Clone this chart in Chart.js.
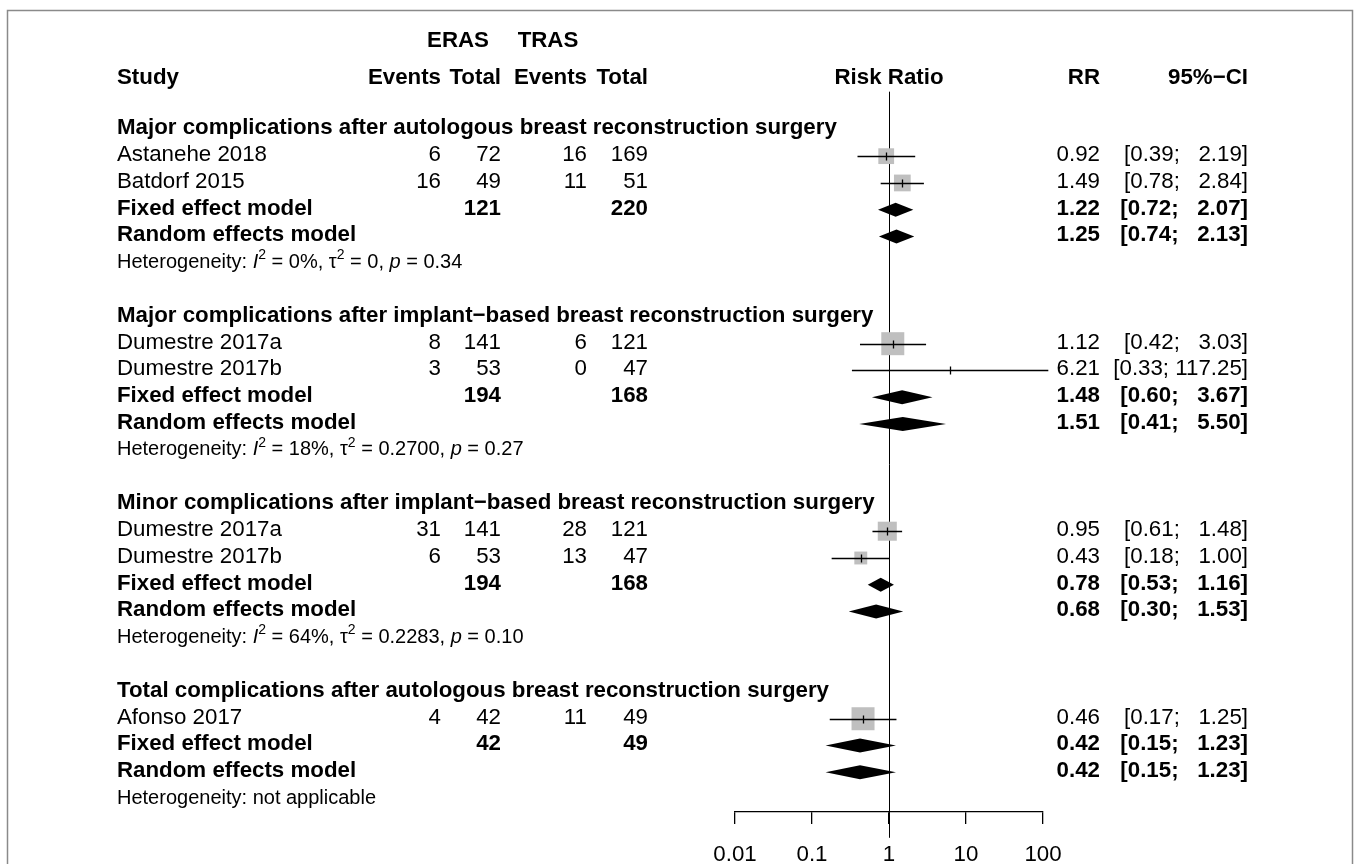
<!DOCTYPE html>
<html>
<head>
<meta charset="utf-8">
<title>Forest plot: ERAS vs TRAS</title>
<script src="https://cdn.jsdelivr.net/npm/chart.js@4.4.1/dist/chart.umd.min.js"></script>
<style>
  html, body { margin: 0; padding: 0; background: #ffffff; }
  canvas { display: block; }
</style>
</head>
<body>
<canvas id="forest" width="1357" height="864"></canvas>
<script>
// ---- Data -------------------------------------------------------------
const subgroupTitles = [
  'Major complications after autologous breast reconstruction surgery',
  'Major complications after implant\u2212based breast reconstruction surgery',
  'Minor complications after implant\u2212based breast reconstruction surgery',
  'Total complications after autologous breast reconstruction surgery'
];
const studyNames = [
  ['Astanehe 2018', 'Batdorf 2015'],
  ['Dumestre 2017a', 'Dumestre 2017b'],
  ['Dumestre 2017a', 'Dumestre 2017b'],
  ['Afonso 2017']
];
const eventsERAS = [[6, 16], [8, 3], [31, 6], [4]];
const totalERAS  = [[72, 49], [141, 53], [141, 53], [42]];
const eventsTRAS = [[16, 11], [6, 0], [28, 13], [11]];
const totalTRAS  = [[169, 51], [121, 47], [121, 47], [49]];

const studyRR    = [[0.92, 1.49], [1.12, 6.21], [0.95, 0.43], [0.46]];
const studyLower = [[0.39, 0.78], [0.42, 0.33], [0.61, 0.18], [0.17]];
const studyUpper = [[2.19, 2.84], [3.03, 117.25], [1.48, 1.00], [1.25]];
// fixed-effect weights (%) within each subgroup
const studyWeight = [[47.0, 53.0], [100, 0], [68.6, 31.4], [100]];

const fixedRR     = [1.22, 1.48, 0.78, 0.42];
const fixedLower  = [0.72, 0.60, 0.53, 0.15];
const fixedUpper  = [2.07, 3.67, 1.16, 1.23];
const randomRR    = [1.25, 1.51, 0.68, 0.42];
const randomLower = [0.74, 0.41, 0.30, 0.15];
const randomUpper = [2.13, 5.50, 1.53, 1.23];

const hetI2   = ['0%', '18%', '64%', null];
const hetTau2 = ['0', '0.2700', '0.2283', null];
const hetP    = ['0.34', '0.27', '0.10', null];

const axisTicks      = [0.01, 0.1, 1, 10, 100];
const axisTickLabels = ['0.01', '0.1', '1', '10', '100'];

// ---- Layout -----------------------------------------------------------
const FONT = '"Liberation Sans", Arial, Helvetica, sans-serif';
const FS = 22.3;      // main text size
const FS_HET = 20;    // heterogeneity line size
const BASE_SHIFT = 0.22;
const ROW_PX = 27;    // row height
const ROW0_PX = 124;  // first subgroup title
const PLOT_TOP = 10, PLOT_BOTTOM = 812, PLOT_LEFT = 735, PLOT_RIGHT = 1043;
const W = 1357, H = 864;
const rowOf = px => (px - ROW0_PX) / ROW_PX;

const COL = {
  study: 117, evE: 441, totE: 501, evT: 587, totT: 648,
  rr: 1100, ci: 1248, labE: 458, labT: 548
};

// Assign rows: title, studies, fixed, random, heterogeneity, blank
const rows = [];
let r = 0;
subgroupTitles.forEach((title, g) => {
  const block = { g, title: r, studies: [] };
  r += 1;
  studyNames[g].forEach(() => { block.studies.push(r); r += 1; });
  block.fixed = r; block.random = r + 1; block.het = r + 2;
  r += 4;
  rows.push(block);
});

const fmt2 = v => v.toFixed(2);
const upperWidth = Math.max(...[].concat(...studyUpper, fixedUpper, randomUpper).map(v => fmt2(v).length));
const ciText = (lo, hi) => '[' + fmt2(lo) + '; ' + fmt2(hi).padStart(upperWidth, ' ') + ']';

// Square sizes: side proportional to sqrt(weight)
const MAX_SIDE = 23;
const squarePoints = [];
rows.forEach(b => b.studies.forEach((row, i) => {
  squarePoints.push({ x: studyRR[b.g][i], y: row, w: studyWeight[b.g][i] });
}));
const squareRadius = c => (MAX_SIDE * Math.sqrt((c.raw ? c.raw.w : 0) / 100)) / Math.SQRT2;

// ---- Drawing helpers --------------------------------------------------
function text(ctx, str, x, y, opts = {}) {
  const size = opts.size || FS;
  ctx.font = (opts.italic ? 'italic ' : '') + (opts.bold ? 'bold ' : '') + size + 'px ' + FONT;
  ctx.fillStyle = '#000';
  ctx.textAlign = opts.align || 'left';
  ctx.textBaseline = 'alphabetic';
  ctx.fillText(str, x, y + BASE_SHIFT * size);
}

function hetLine(ctx, g, x, y) {
  const base = y + BASE_SHIFT * FS_HET;
  let parts;
  if (hetI2[g] === null) {
    parts = [{ t: 'Heterogeneity: not applicable' }];
  } else {
    parts = [
      { t: 'Heterogeneity: ' }, { t: 'I', it: true }, { t: '2', sup: true },
      { t: ' = ' + hetI2[g] + ', ' }, { t: '\u03c4' }, { t: '2', sup: true },
      { t: ' = ' + hetTau2[g] + ', ' }, { t: 'p', it: true }, { t: ' = ' + hetP[g] }
    ];
  }
  ctx.fillStyle = '#000';
  ctx.textAlign = 'left';
  ctx.textBaseline = 'alphabetic';
  let cx = x;
  parts.forEach(p => {
    const size = p.sup ? Math.round(FS_HET * 0.7) : FS_HET;
    ctx.font = (p.it ? 'italic ' : '') + size + 'px ' + FONT;
    ctx.fillText(p.t, cx, p.sup ? base - FS_HET * 0.42 : base);
    cx += ctx.measureText(p.t).width;
  });
}

function diamond(ctx, xs, y, est, lo, hi) {
  const h = 7;
  ctx.beginPath();
  ctx.moveTo(xs.getPixelForValue(lo), y);
  ctx.lineTo(xs.getPixelForValue(est), y - h);
  ctx.lineTo(xs.getPixelForValue(hi), y);
  ctx.lineTo(xs.getPixelForValue(est), y + h);
  ctx.closePath();
  ctx.fillStyle = '#000';
  ctx.fill();
}

// ---- Plugin: frame, reference line, CI lines, diamonds, text columns --
const forestPlugin = {
  id: 'forest',
  beforeDraw(chart) {
    const ctx = chart.ctx;
    ctx.save();
    ctx.fillStyle = '#fff';
    ctx.fillRect(0, 0, W, H);
    ctx.strokeStyle = '#8a8a8a';
    ctx.lineWidth = 1.5;
    ctx.strokeRect(7.5, 10.5, 1345, 900);
    ctx.restore();
  },
  beforeDatasetsDraw(chart) {
    const ctx = chart.ctx, xs = chart.scales.x, ys = chart.scales.y;
    ctx.save();
    const x1 = Math.round(xs.getPixelForValue(1)) + 0.5;
    ctx.strokeStyle = '#000';
    ctx.lineWidth = 1;
    ctx.beginPath();
    ctx.moveTo(x1, ys.getPixelForValue(rowOf(86)));
    ctx.lineTo(x1, ys.getPixelForValue(rowOf(838)));
    ctx.stroke();
    ctx.restore();
  },
  afterDatasetsDraw(chart) {
    const ctx = chart.ctx, xs = chart.scales.x, ys = chart.scales.y;
    ctx.save();

    // column headers
    const yLab = ys.getPixelForValue(rowOf(36));
    const yHead = ys.getPixelForValue(rowOf(73));
    text(ctx, 'ERAS', COL.labE, yLab, { bold: true, align: 'center' });
    text(ctx, 'TRAS', COL.labT, yLab, { bold: true, align: 'center' });
    text(ctx, 'Study', COL.study, yHead, { bold: true });
    text(ctx, 'Events', COL.evE, yHead, { bold: true, align: 'right' });
    text(ctx, 'Total', COL.totE, yHead, { bold: true, align: 'right' });
    text(ctx, 'Events', COL.evT, yHead, { bold: true, align: 'right' });
    text(ctx, 'Total', COL.totT, yHead, { bold: true, align: 'right' });
    text(ctx, 'Risk Ratio', xs.getPixelForValue(1), yHead, { bold: true, align: 'center' });
    text(ctx, 'RR', COL.rr, yHead, { bold: true, align: 'right' });
    text(ctx, '95%\u2212CI', COL.ci, yHead, { bold: true, align: 'right' });

    rows.forEach(b => {
      const g = b.g;
      text(ctx, subgroupTitles[g], COL.study, ys.getPixelForValue(b.title), { bold: true });

      b.studies.forEach((row, i) => {
        const y = ys.getPixelForValue(row);
        const yl = Math.round(y) + 0.5;
        text(ctx, studyNames[g][i], COL.study, y);
        text(ctx, String(eventsERAS[g][i]), COL.evE, y, { align: 'right' });
        text(ctx, String(totalERAS[g][i]), COL.totE, y, { align: 'right' });
        text(ctx, String(eventsTRAS[g][i]), COL.evT, y, { align: 'right' });
        text(ctx, String(totalTRAS[g][i]), COL.totT, y, { align: 'right' });
        text(ctx, fmt2(studyRR[g][i]), COL.rr, y, { align: 'right' });
        text(ctx, ciText(studyLower[g][i], studyUpper[g][i]), COL.ci, y, { align: 'right' });

        // confidence interval and point estimate
        ctx.strokeStyle = '#000';
        ctx.lineWidth = 1.3;
        ctx.beginPath();
        ctx.moveTo(xs.getPixelForValue(studyLower[g][i]), yl);
        ctx.lineTo(xs.getPixelForValue(studyUpper[g][i]), yl);
        const xe = Math.round(xs.getPixelForValue(studyRR[g][i])) + 0.5;
        ctx.moveTo(xe, yl - 4);
        ctx.lineTo(xe, yl + 4);
        ctx.stroke();
      });

      const sumE = totalERAS[g].reduce((a, v) => a + v, 0);
      const sumT = totalTRAS[g].reduce((a, v) => a + v, 0);
      const yf = ys.getPixelForValue(b.fixed);
      text(ctx, 'Fixed effect model', COL.study, yf, { bold: true });
      text(ctx, String(sumE), COL.totE, yf, { bold: true, align: 'right' });
      text(ctx, String(sumT), COL.totT, yf, { bold: true, align: 'right' });
      text(ctx, fmt2(fixedRR[g]), COL.rr, yf, { bold: true, align: 'right' });
      text(ctx, ciText(fixedLower[g], fixedUpper[g]), COL.ci, yf, { bold: true, align: 'right' });
      diamond(ctx, xs, yf, fixedRR[g], fixedLower[g], fixedUpper[g]);

      const yr = ys.getPixelForValue(b.random);
      text(ctx, 'Random effects model', COL.study, yr, { bold: true });
      text(ctx, fmt2(randomRR[g]), COL.rr, yr, { bold: true, align: 'right' });
      text(ctx, ciText(randomLower[g], randomUpper[g]), COL.ci, yr, { bold: true, align: 'right' });
      diamond(ctx, xs, yr, randomRR[g], randomLower[g], randomUpper[g]);

      hetLine(ctx, g, COL.study, ys.getPixelForValue(b.het));
    });
    ctx.restore();
  }
};

// ---- Chart --------------------------------------------------------------
new Chart(document.getElementById('forest'), {
  type: 'scatter',
  data: {
    datasets: [{
      data: squarePoints,
      pointStyle: 'rect',
      pointRadius: squareRadius,
      pointHoverRadius: squareRadius,
      backgroundColor: '#bfbfbf',
      borderWidth: 0,
      clip: false
    }]
  },
  options: {
    responsive: false,
    animation: false,
    events: [],
    layout: { padding: { left: PLOT_LEFT, right: W - PLOT_RIGHT, top: PLOT_TOP, bottom: 0 } },
    plugins: { legend: { display: false }, tooltip: { enabled: false } },
    scales: {
      x: {
        type: 'logarithmic',
        position: 'bottom',
        min: axisTicks[0],
        max: axisTicks[axisTicks.length - 1],
        afterBuildTicks: s => { s.ticks = axisTicks.map(v => ({ value: v })); },
        afterFit: s => { s.height = H - PLOT_BOTTOM; },
        border: { display: true, color: '#000', width: 1.3 },
        grid: { drawOnChartArea: false, drawTicks: true, tickLength: 12, color: '#000', lineWidth: 1.3 },
        ticks: {
          autoSkip: false, maxRotation: 0, color: '#000', padding: 17,
          font: { family: FONT, size: FS },
          callback: (v, i) => axisTickLabels[i]
        }
      },
      y: {
        type: 'linear',
        display: false,
        reverse: true,
        min: rowOf(PLOT_TOP),
        max: rowOf(PLOT_BOTTOM)
      }
    }
  },
  plugins: [forestPlugin]
});
</script>
</body>
</html>
